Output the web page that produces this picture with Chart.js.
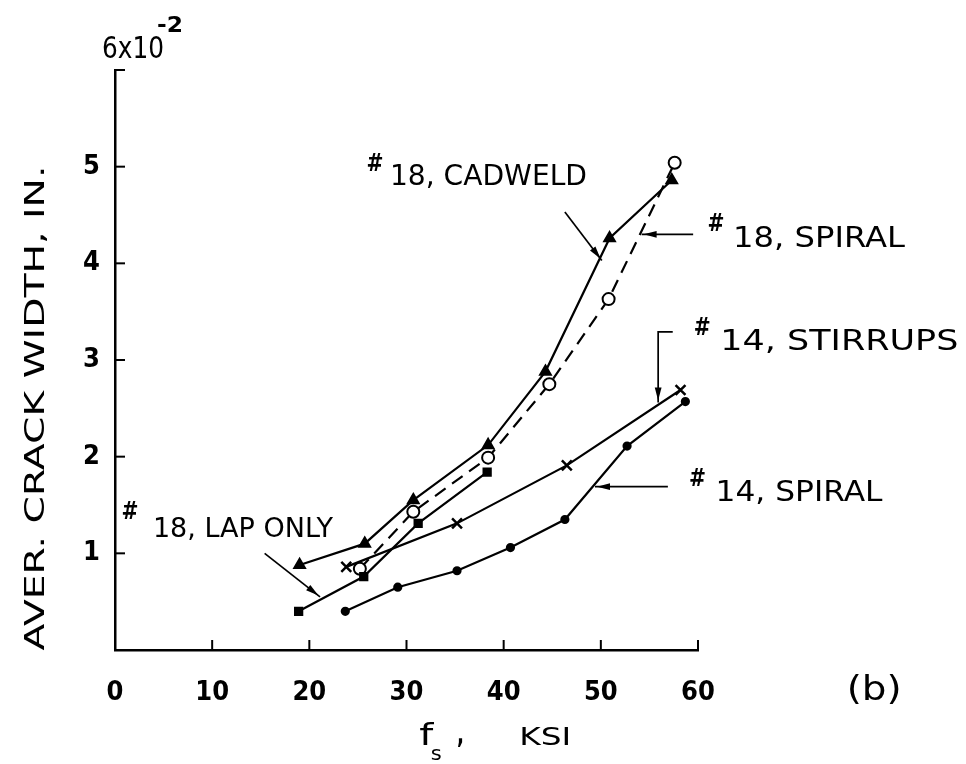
<!DOCTYPE html>
<html><head><meta charset="utf-8">
<script src="https://cdn.jsdelivr.net/npm/chart.js@4.4.1/dist/chart.umd.min.js"></script>
<style>html,body{margin:0;padding:0;background:#fff}#wrap{width:966px;height:764px;position:relative}</style>
</head><body><div id="wrap"><canvas id="c"></canvas></div>
<script>
// ---- data ----
const lapOnlyX   = [18.9, 25.6, 31.2, 38.3];
const lapOnlyY   = [0.40, 0.76, 1.31, 1.84];
const cadweldX   = [19.0, 25.7, 30.7, 38.4, 44.3, 50.9, 57.3];
const cadweldY   = [0.88, 1.10, 1.55, 2.12, 2.88, 4.26, 4.86];
const spiral18X  = [25.2, 30.7, 38.4, 44.7, 50.8, 57.6];
const spiral18Y  = [0.84, 1.43, 1.99, 2.75, 3.63, 5.04];
const stirrup14X = [23.8, 35.2, 46.5, 58.2];
const stirrup14Y = [0.86, 1.31, 1.91, 2.69];
const spiral14X  = [23.7, 29.1, 35.2, 40.7, 46.3, 52.7, 58.7];
const spiral14Y  = [0.40, 0.65, 0.82, 1.06, 1.35, 2.11, 2.57];
const xTickValues = [0, 10, 20, 30, 40, 50, 60];
const yTickValues = [1, 2, 3, 4, 5, 6];
const yTickLabels = ['1', '2', '3', '4', '5', ''];
const seriesNames = ['18, LAP ONLY', '18, CADWELD', '18, SPIRAL', '14, STIRRUPS', '14, SPIRAL'];
const xTitle = ['f', 's', ',', 'KSI'];
const yTitle = 'AVER. CRACK WIDTH, IN.';
const yUnit = ['6x10', '-2'];
const panelTag = '(b)';

const pts = (xs, ys) => xs.map((x, i) => ({x, y: ys[i]}));
const LETTER = "'DejaVu Sans', sans-serif";
const NUM = "'Liberation Sans Narrow','DejaVu Sans Condensed','DejaVu Sans',sans-serif";

// label call-outs, in data units (x, y) of text left/baseline
const callouts = [
  {name: seriesNames[1], hx: 26.8, hy: 4.98, tx: 28.3, ty: 4.81, w: 197, cap: 21},
  {name: seriesNames[2], hx: 61.9, hy: 4.36, tx: 63.6, ty: 4.17, w: 172, cap: 21},
  {name: seriesNames[3], hx: 60.5, hy: 3.28, tx: 62.3, ty: 3.10, w: 238, cap: 21},
  {name: seriesNames[4], hx: 60.0, hy: 1.72, tx: 61.8, ty: 1.54, w: 167, cap: 21},
  {name: seriesNames[0], hx: 1.6,  hy: 1.38, tx: 3.9,  ty: 1.17, w: 180, cap: 19}
];
// leader lines (data units), arrow at last point
const leaders = [
  [[46.3, 4.53], [50.1, 4.03]],
  [[59.5, 4.30], [54.2, 4.30]],
  [[57.4, 3.29], [55.9, 3.29], [55.9, 2.56]],
  [[56.9, 1.69], [49.4, 1.69]],
  [[15.4, 1.0],  [21.1, 0.55]]
];

function fitText(ctx, str, x, y, font, w) {
  ctx.save();
  ctx.font = font;
  const m = ctx.measureText(str).width;
  ctx.translate(x, y);
  if (w) ctx.scale(w / m, 1);
  ctx.fillText(str, 0, 0);
  ctx.restore();
}
function arrowHead(ctx, x0, y0, x1, y1) {
  const a = Math.atan2(y1 - y0, x1 - x0), L = 13, W = 3.4;
  ctx.save();
  ctx.translate(x1, y1); ctx.rotate(a);
  ctx.beginPath();
  ctx.moveTo(-2, 0); ctx.lineTo(-2 - L, -W); ctx.lineTo(-2 - L, W); ctx.closePath();
  ctx.fill();
  ctx.restore();
}

const decor = {
  id: 'decor',
  afterDraw(chart) {
    const {ctx, scales: {x, y}, chartArea: ca} = chart;
    ctx.save();
    ctx.fillStyle = '#000'; ctx.strokeStyle = '#000'; ctx.lineWidth = 2;
    // inward tick marks
    xTickValues.forEach(v => { if (v === 0) return; const px = x.getPixelForValue(v);
      ctx.beginPath(); ctx.moveTo(px, ca.bottom); ctx.lineTo(px, ca.bottom - 10); ctx.stroke(); });
    yTickValues.forEach(v => { const py = y.getPixelForValue(v);
      ctx.beginPath(); ctx.moveTo(ca.left, py); ctx.lineTo(ca.left + 10, py); ctx.stroke(); });
    // callout texts
    ctx.textBaseline = 'alphabetic';
    callouts.forEach(c => {
      const hx = x.getPixelForValue(c.hx), hy = y.getPixelForValue(c.hy);
      fitText(ctx, '#', hx - 9, hy + 2, 'bold 24px ' + LETTER, 17);
      const tx = x.getPixelForValue(c.tx), ty = y.getPixelForValue(c.ty);
      fitText(ctx, c.name, tx, ty, (c.cap / 0.73).toFixed(1) + 'px ' + LETTER, c.w);
    });
    // leaders
    ctx.lineWidth = 1.7;
    leaders.forEach(L => {
      const P = L.map(p => [x.getPixelForValue(p[0]), y.getPixelForValue(p[1])]);
      ctx.beginPath(); ctx.moveTo(P[0][0], P[0][1]);
      P.slice(1).forEach(p => ctx.lineTo(p[0], p[1])); ctx.stroke();
      const n = P.length; arrowHead(ctx, P[n-2][0], P[n-2][1], P[n-1][0], P[n-1][1]);
    });
    // y unit
    const ux = ca.left - 13, uy = y.getPixelForValue(6) - 12;
    fitText(ctx, yUnit[0], ux, uy, '31px ' + LETTER, 62);
    fitText(ctx, yUnit[1], ux + 55, uy - 26, 'bold 22px ' + LETTER, 26);
    // axis titles
    fitText(ctx, xTitle[0], x.getPixelForValue(31.3), 745, '30px ' + LETTER, 14);
    fitText(ctx, xTitle[1], x.getPixelForValue(32.5), 760, '20px ' + LETTER, 11);
    fitText(ctx, xTitle[2], x.getPixelForValue(35.2), 743, 'bold 26px ' + LETTER, 7);
    fitText(ctx, xTitle[3], x.getPixelForValue(41.6), 745, '25px ' + LETTER, 52);
    ctx.save();
    ctx.translate(44, (ca.top + ca.bottom) / 2 + 48);
    ctx.rotate(-Math.PI / 2);
    ctx.textAlign = 'center';
    ctx.font = '27px ' + LETTER;
    const m = ctx.measureText(yTitle).width;
    ctx.scale(485 / m, 1);
    ctx.fillText(yTitle, 0, 0);
    ctx.restore();
    // panel tag
    fitText(ctx, panelTag, x.getPixelForValue(75.3), 700, '34px ' + LETTER, 55);
    ctx.restore();
  }
};

const base = {showLine: true, borderColor: '#000', borderWidth: 2.2, pointBorderColor: '#000', pointBackgroundColor: '#000'};
new Chart(document.getElementById('c'), {
  type: 'scatter',
  data: {datasets: [
    {...base, label: seriesNames[0], data: pts(lapOnlyX, lapOnlyY), pointStyle: 'rect', pointRadius: 5},
    {...base, label: seriesNames[1], data: pts(cadweldX, cadweldY), pointStyle: 'triangle', pointRadius: 6},
    {...base, label: seriesNames[2], data: pts(spiral18X, spiral18Y), pointStyle: 'circle', pointRadius: 6, pointBackgroundColor: '#fff', pointBorderWidth: 2, borderDash: [13, 8]},
    {...base, label: seriesNames[3], data: pts(stirrup14X, stirrup14Y), pointStyle: 'crossRot', pointRadius: 7, pointBorderWidth: 2.5},
    {...base, label: seriesNames[4], data: pts(spiral14X, spiral14Y), pointStyle: 'circle', pointRadius: 3.5}
  ]},
  options: {
    responsive: true, maintainAspectRatio: false, animation: false, devicePixelRatio: 1,
    layout: {padding: {left: 0, top: 70, right: 268, bottom: 0}},
    plugins: {legend: {display: false}, tooltip: {enabled: false}},
    scales: {
      x: {type: 'linear', min: 0, max: 60,
        afterBuildTicks: s => { s.ticks = xTickValues.map(v => ({value: v})); },
        afterFit: s => { s.height = 114; },
        grid: {display: false, drawTicks: false},
        border: {display: true, color: '#000', width: 2.5},
        ticks: {padding: 27, color: '#000', font: {family: NUM, size: 27, weight: 'bold'}, maxRotation: 0}},
      y: {type: 'linear', min: 0, max: 6,
        afterBuildTicks: s => { s.ticks = yTickValues.map(v => ({value: v})); },
        afterFit: s => { s.width = 115; },
        grid: {display: false, drawTicks: false},
        border: {display: true, color: '#000', width: 2.5},
        ticks: {padding: 15, color: '#000', font: {family: NUM, size: 27, weight: 'bold'},
          callback: (v) => { const i = yTickValues.indexOf(v); return i >= 0 ? yTickLabels[i] : ''; }}}
    }
  },
  plugins: [decor]
});
</script></body></html>
